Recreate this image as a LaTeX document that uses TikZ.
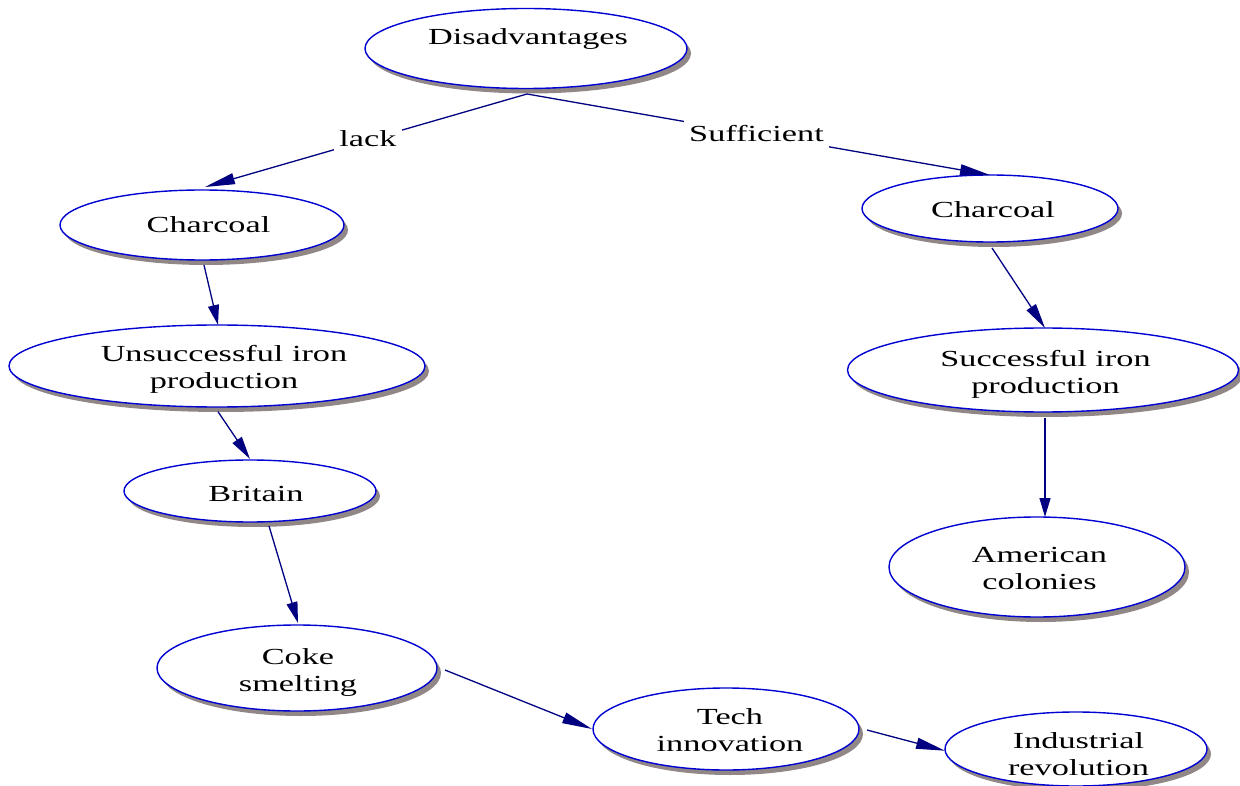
\documentclass[tikz,border=0pt]{standalone}
\usepackage{fontspec}
\setmainfont{Liberation Serif}[FakeStretch=1.49]
\usetikzlibrary{arrows.meta,shapes.geometric,shadows}
\definecolor{edgenavy}{RGB}{0,0,128}
\definecolor{rimblue}{RGB}{0,0,210}
\definecolor{shadowgray}{RGB}{145,135,135}

\begin{document}
\begin{tikzpicture}[x=1pt,y=-1pt,
  bubble/.style={ellipse, draw=rimblue, line width=1.4pt, fill=white,
    inner sep=0pt, outer sep=0pt,
    drop shadow={shadow xshift=4pt, shadow yshift=-5pt, fill=shadowgray, opacity=1}},
  % captions are anchored at the baseline of their last line
  caption/.style={font=\fontsize{23}{27}\selectfont, align=center,
    anchor=base, inner sep=0pt},
  link/.style={draw=edgenavy, line width=1.3pt,
    -{Triangle[length=#1, width=11pt]}},
  link/.default=22pt,
  tag/.style={font=\fontsize{23}{27}\selectfont, fill=white, anchor=base,
    inner xsep=5pt, inner ysep=8pt}]

\useasboundingbox (0,0) rectangle (1240,786);

% ellipses
\node[bubble, minimum width=322pt, minimum height=80pt] (dis)   at (526,48.5) {};
\node[bubble, minimum width=284pt, minimum height=70pt] (charL) at (202,225) {};
\node[bubble, minimum width=256pt, minimum height=67pt] (charR) at (990,208.5) {};
\node[bubble, minimum width=416pt, minimum height=82pt] (uns)   at (217,366) {};
\node[bubble, minimum width=391pt, minimum height=84pt] (succ)  at (1043,370) {};
\node[bubble, minimum width=252pt, minimum height=62pt] (brit)  at (250,491) {};
\node[bubble, minimum width=296pt, minimum height=100pt] (amer) at (1037,567) {};
\node[bubble, minimum width=280pt, minimum height=86pt] (coke)  at (297,668) {};
\node[bubble, minimum width=266pt, minimum height=82pt] (tech)  at (726,729) {};
\node[bubble, minimum width=262pt, minimum height=74pt] (ind)   at (1076,749) {};

% captions
\node[caption] (dis-t)   at (528,45)     {Disadvantages};
\node[caption] (charL-t) at (208.5,233)  {Charcoal};
\node[caption] (charR-t) at (993,218)    {Charcoal};
\node[caption] (uns-t)   at (224,388.5)  {Unsuccessful iron\\production};
\node[caption] (succ-t)  at (1045.5,393.5) {Successful iron\\production};
\node[caption] (brit-t)  at (256,501.7)  {Britain};
\node[caption] (amer-t)  at (1039.5,589.5) {American\\colonies};
\node[caption] (coke-t)  at (298,691)    {Coke\\smelting};
\node[caption] (tech-t)  at (730,751.7)  {Tech\\innovation};
\node[caption] (ind-t)   at (1078.5,775) {Industrial\\revolution};

% connectors
\draw[link=30pt] ([shift={(1,5.5)}]dis.south) -- ([shift={(3,-3)}]charL.north);
\draw[link=30pt] ([shift={(1,5.5)}]dis.south) -- (charR.north);
\draw[link=20pt] ([shift={(2,5)}]charL.south) -- ([shift={(1,0)}]uns.north);
\draw[link=23pt] ([shift={(1,4.7)}]uns.south) -- ([shift={(0,-1)}]brit.north);
\draw[link=21pt] ([shift={(19,4)}]brit.south) -- ([shift={(1,-2)}]coke.north);
\draw[link=30pt] ([shift={(8,2)}]coke.east) -- ([shift={(-1,0)}]tech.west);
\draw[link=29pt] ([shift={(8,1)}]tech.east) -- ([shift={(0,1.7)}]ind.west);
\draw[link=25pt] ([shift={(2,6)}]charR.south) -- ([shift={(2,0)}]succ.north);
\draw[link=19pt] ([shift={(2,6)}]succ.south) -- ([shift={(8,0)}]amer.north);

% connector labels
\node[tag] (lack-l) at (368,146.7) {lack};
\node[tag] (suff-l) at (756.5,141.7) {Sufficient};

\end{tikzpicture}
\end{document}
